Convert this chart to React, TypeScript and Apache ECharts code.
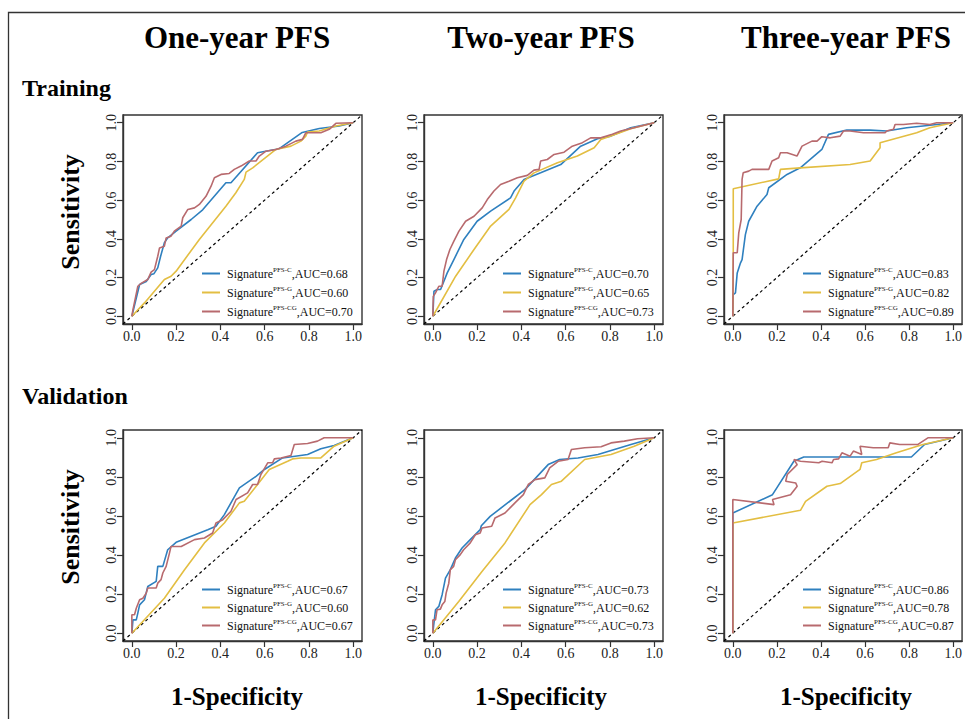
import React, { useEffect, useRef } from "react";
import * as echarts from "echarts";

// ---------- data ----------
const columnTitles = ["One-year PFS", "Two-year PFS", "Three-year PFS"];
const rowTitles = ["Training", "Validation"];
const modelTags = ["PFS-C", "PFS-G", "PFS-CG"];
const tickValues = [0, 0.2, 0.4, 0.6, 0.8, 1.0];
const yAxisTitle = "Sensitivity";
const xAxisTitle = "1-Specificity";

const aucTrainOne = [0.68, 0.6, 0.7];
const aucTrainTwo = [0.7, 0.65, 0.73];
const aucTrainThree = [0.83, 0.82, 0.89];
const aucValidOne = [0.67, 0.6, 0.67];
const aucValidTwo = [0.73, 0.62, 0.73];
const aucValidThree = [0.86, 0.78, 0.87];

const trainOneC = [[0,0],[0.035,0.164],[0.065,0.18],[0.087,0.216],[0.1,0.22],[0.117,0.25],[0.13,0.31],[0.147,0.38],[0.162,0.405],[0.2,0.44],[0.268,0.5],[0.32,0.55],[0.425,0.69],[0.448,0.69],[0.568,0.845],[0.666,0.866],[0.77,0.95],[0.847,0.97],[0.937,0.983],[1,1]];
const trainOneG = [[0,0],[0.057,0.069],[0.147,0.19],[0.177,0.207],[0.2,0.233],[0.305,0.397],[0.425,0.569],[0.47,0.638],[0.508,0.707],[0.516,0.745],[0.546,0.767],[0.651,0.862],[0.719,0.879],[0.764,0.905],[0.786,0.931],[0.794,0.952],[0.847,0.957],[0.922,0.983],[1,1]];
const trainOneCG = [[0,0],[0.005,0.034],[0.017,0.1],[0.027,0.155],[0.042,0.17],[0.072,0.19],[0.087,0.228],[0.102,0.241],[0.117,0.31],[0.125,0.353],[0.147,0.362],[0.155,0.405],[0.177,0.414],[0.192,0.44],[0.223,0.466],[0.23,0.509],[0.253,0.552],[0.283,0.56],[0.305,0.578],[0.335,0.62],[0.358,0.672],[0.373,0.716],[0.403,0.733],[0.44,0.738],[0.463,0.759],[0.493,0.776],[0.531,0.802],[0.561,0.802],[0.576,0.828],[0.606,0.853],[0.651,0.862],[0.696,0.879],[0.741,0.905],[0.771,0.914],[0.786,0.948],[0.854,0.948],[0.892,0.966],[0.922,0.997],[1,1]];

const trainTwoC = [[0,0],[0.005,0.129],[0.02,0.138],[0.035,0.138],[0.05,0.181],[0.065,0.224],[0.095,0.293],[0.14,0.397],[0.2,0.491],[0.261,0.543],[0.351,0.612],[0.367,0.647],[0.412,0.707],[0.487,0.741],[0.578,0.784],[0.668,0.879],[0.744,0.917],[0.804,0.931],[0.894,0.974],[1,1]];
const trainTwoG = [[0,0],[0.103,0.207],[0.186,0.345],[0.261,0.466],[0.344,0.552],[0.374,0.612],[0.412,0.698],[0.457,0.741],[0.563,0.793],[0.653,0.828],[0.729,0.871],[0.759,0.914],[0.804,0.931],[0.894,0.969],[1,1]];
const trainTwoCG = [[0,0],[0.002,0.103],[0.012,0.121],[0.027,0.155],[0.042,0.155],[0.05,0.233],[0.062,0.293],[0.077,0.345],[0.095,0.388],[0.118,0.44],[0.148,0.491],[0.186,0.517],[0.223,0.56],[0.246,0.603],[0.276,0.647],[0.306,0.681],[0.344,0.698],[0.382,0.716],[0.427,0.728],[0.457,0.755],[0.48,0.759],[0.487,0.802],[0.517,0.81],[0.548,0.836],[0.593,0.848],[0.63,0.879],[0.676,0.897],[0.713,0.922],[0.759,0.922],[0.811,0.94],[0.849,0.957],[0.909,0.974],[1,1]];

const trainThreeC = [[0,0],[0.002,0.112],[0.012,0.121],[0.02,0.224],[0.035,0.276],[0.042,0.293],[0.057,0.422],[0.072,0.491],[0.11,0.569],[0.155,0.629],[0.163,0.664],[0.246,0.733],[0.306,0.767],[0.404,0.862],[0.434,0.94],[0.517,0.962],[0.623,0.962],[0.698,0.957],[0.789,0.974],[1,1]];
const trainThreeG = [[0,0],[0.002,0.328],[0.002,0.659],[0.208,0.71],[0.216,0.759],[0.306,0.767],[0.532,0.784],[0.623,0.802],[0.668,0.871],[0.668,0.897],[0.834,0.948],[0.894,0.974],[1,1]];
const trainThreeCG = [[0,0],[0.002,0.328],[0.02,0.328],[0.027,0.431],[0.038,0.5],[0.042,0.707],[0.047,0.741],[0.072,0.75],[0.087,0.759],[0.163,0.759],[0.178,0.802],[0.208,0.819],[0.216,0.845],[0.246,0.845],[0.291,0.828],[0.314,0.879],[0.359,0.905],[0.382,0.905],[0.404,0.928],[0.442,0.922],[0.487,0.931],[0.502,0.957],[0.532,0.957],[0.593,0.948],[0.691,0.948],[0.698,0.957],[0.729,0.966],[0.736,0.991],[0.774,0.991],[0.834,0.997],[0.894,0.991],[0.925,1.0],[1,1]];

const validOneC = [[0,0],[0.005,0.068],[0.02,0.068],[0.027,0.103],[0.035,0.145],[0.057,0.171],[0.072,0.239],[0.11,0.265],[0.117,0.342],[0.14,0.342],[0.162,0.427],[0.2,0.465],[0.343,0.53],[0.38,0.547],[0.418,0.607],[0.486,0.744],[0.561,0.803],[0.599,0.838],[0.681,0.897],[0.794,0.915],[0.854,0.944],[0.914,0.961],[1,1]];
const validOneG = [[0,0],[0.147,0.179],[0.238,0.325],[0.328,0.462],[0.418,0.564],[0.486,0.667],[0.508,0.675],[0.568,0.761],[0.621,0.838],[0.704,0.88],[0.726,0.892],[0.764,0.897],[0.854,0.897],[0.914,0.957],[1,1]];
const validOneCG = [[0,0],[0,0.094],[0.012,0.094],[0.02,0.128],[0.035,0.171],[0.05,0.179],[0.065,0.205],[0.072,0.231],[0.11,0.231],[0.117,0.256],[0.132,0.274],[0.14,0.308],[0.155,0.342],[0.17,0.41],[0.177,0.444],[0.223,0.444],[0.283,0.479],[0.328,0.487],[0.365,0.513],[0.38,0.564],[0.411,0.581],[0.448,0.624],[0.471,0.684],[0.523,0.718],[0.546,0.761],[0.568,0.761],[0.583,0.812],[0.614,0.872],[0.636,0.872],[0.644,0.892],[0.674,0.897],[0.719,0.909],[0.734,0.966],[0.794,0.971],[0.839,0.983],[0.869,1.0],[1,1]];

const validTwoC = [[0,0],[0.004,0.043],[0.012,0.12],[0.027,0.137],[0.042,0.197],[0.057,0.282],[0.079,0.325],[0.102,0.385],[0.132,0.436],[0.169,0.479],[0.214,0.53],[0.219,0.55],[0.259,0.598],[0.416,0.735],[0.521,0.863],[0.573,0.889],[0.656,0.897],[0.746,0.915],[0.895,0.966],[1,1]];
const validTwoG = [[0,0],[0.117,0.162],[0.222,0.316],[0.326,0.462],[0.439,0.658],[0.491,0.709],[0.536,0.761],[0.581,0.778],[0.686,0.889],[0.805,0.915],[0.91,0.957],[1,1]];
const validTwoCG = [[0,0],[0,0.068],[0.012,0.068],[0.019,0.12],[0.034,0.123],[0.042,0.145],[0.054,0.162],[0.06,0.205],[0.072,0.256],[0.079,0.325],[0.094,0.342],[0.102,0.376],[0.124,0.402],[0.139,0.427],[0.169,0.462],[0.192,0.504],[0.214,0.513],[0.222,0.538],[0.266,0.547],[0.281,0.59],[0.326,0.615],[0.371,0.667],[0.409,0.709],[0.431,0.761],[0.461,0.786],[0.506,0.795],[0.528,0.846],[0.566,0.88],[0.611,0.889],[0.626,0.94],[0.686,0.949],[0.76,0.954],[0.805,0.974],[0.865,0.983],[0.925,0.995],[1,1]];

const validThreeC = [[0,0],[0,0.615],[0.18,0.709],[0.277,0.88],[0.322,0.902],[0.81,0.902],[0.87,0.966],[1,1]];
const validThreeG = [[0,0],[0,0.564],[0.307,0.629],[0.33,0.675],[0.427,0.752],[0.487,0.766],[0.577,0.838],[0.585,0.872],[0.652,0.889],[0.742,0.923],[0.862,0.966],[1,1]];
const validThreeCG = [[0,0],[0,0.684],[0.187,0.658],[0.18,0.684],[0.262,0.709],[0.292,0.752],[0.285,0.769],[0.24,0.778],[0.247,0.812],[0.292,0.863],[0.277,0.889],[0.307,0.88],[0.39,0.872],[0.405,0.88],[0.45,0.872],[0.457,0.889],[0.48,0.892],[0.495,0.923],[0.532,0.906],[0.547,0.932],[0.585,0.915],[0.577,0.957],[0.637,0.949],[0.705,0.949],[0.712,0.974],[0.757,0.966],[0.84,0.966],[0.885,1.0],[1,1]];

const diagonal = [[-0.04, -0.04], [1.04, 1.04]];

const panelCurves = [
  [trainOneC, trainOneG, trainOneCG],
  [trainTwoC, trainTwoG, trainTwoCG],
  [trainThreeC, trainThreeG, trainThreeCG],
  [validOneC, validOneG, validOneCG],
  [validTwoC, validTwoG, validTwoCG],
  [validThreeC, validThreeG, validThreeCG],
];
const panelAucs = [aucTrainOne, aucTrainTwo, aucTrainThree, aucValidOne, aucValidTwo, aucValidThree];

// ---------- style / layout ----------
const SERIF = "Liberation Serif";
const lineColors = ["#2F80BF", "#E3BE42", "#B86A6E"];
const colLeft = [123, 424, 724];
const colWidth = 239;
const rowTop = [115, 430];
const rowHeight = [209, 211];
const colCenter = [237, 541, 846];

function buildOption() {
  const grid: any[] = [];
  const xAxis: any[] = [];
  const yAxis: any[] = [];
  const series: any[] = [];
  const legend: any[] = [];
  const labelMap: Record<string, string> = {};

  for (let p = 0; p < 6; p++) {
    const r = Math.floor(p / 3);
    const c = p % 3;
    grid.push({
      left: colLeft[c],
      top: rowTop[r],
      width: colWidth,
      height: rowHeight[r],
      show: true,
      borderColor: "#333",
      borderWidth: 1.4,
      backgroundColor: "transparent",
    });
    const axisCommon = {
      type: "value",
      gridIndex: p,
      min: -0.04,
      max: 1.04,
      splitLine: { show: false },
      axisLine: { show: true, onZero: false, lineStyle: { color: "#333", width: 1.4 } },
      axisTick: { show: true, customValues: tickValues, length: 6, lineStyle: { color: "#333", width: 1.2 } },
    };
    const labelCommon = {
      customValues: tickValues,
      formatter: (v: number) => v.toFixed(1),
      fontFamily: SERIF,
      fontSize: 14,
      color: "#222",
      margin: 5,
    };
    xAxis.push({ ...axisCommon, position: "bottom", axisLabel: { ...labelCommon } });
    yAxis.push({ ...axisCommon, position: "left", axisLabel: { ...labelCommon, rotate: 90 } });
    series.push({
      type: "line",
      name: `diag${p}`,
      xAxisIndex: p,
      yAxisIndex: p,
      data: diagonal,
      symbol: "none",
      silent: true,
      lineStyle: { color: "#000", width: 1.2, type: [3, 3] },
    });
    const names: string[] = [];
    for (let k = 0; k < 3; k++) {
      const name = `p${p}-${modelTags[k]}`;
      names.push(name);
      labelMap[name] = `{m|Signature}{sup|${modelTags[k]}}{m|,AUC=${panelAucs[p][k].toFixed(2)}}`;
      series.push({
        type: "line",
        name,
        xAxisIndex: p,
        yAxisIndex: p,
        data: panelCurves[p][k],
        symbol: "none",
        color: lineColors[k],
        itemStyle: { color: lineColors[k] },
        lineStyle: { color: lineColors[k], width: 1.6 },
      });
    }
    legend.push({
      data: names,
      orient: "vertical",
      left: colLeft[c] + 79,
      top: rowTop[r] + (r === 0 ? 151 : 152),
      padding: 0,
      itemGap: r === 0 ? 4 : 3,
      itemWidth: 18,
      itemHeight: 2,
      icon: "rect",
      selectedMode: false,
      formatter: (n: string) => labelMap[n],
      textStyle: {
        fontFamily: SERIF,
        fontSize: 12,
        color: "#111",
        lineHeight: 15,
        padding: [0, 0, 0, 2],
        rich: {
          m: { fontFamily: SERIF, fontSize: 12, color: "#111", lineHeight: 15 },
          sup: { fontFamily: SERIF, fontSize: 7, color: "#111", verticalAlign: "top", lineHeight: 9 },
        },
      },
    });
  }

  const graphic: any[] = [
    {
      type: "rect",
      shape: { x: 8.5, y: 12.5, width: 1000, height: 800 },
      style: { fill: "none", stroke: "#333", lineWidth: 1.3 },
      silent: true,
    },
  ];
  for (let c = 0; c < 3; c++) {
    graphic.push({
      type: "text",
      x: colCenter[c],
      y: 37,
      style: { text: columnTitles[c], font: `bold 31px ${SERIF}`, fill: "#000", textAlign: "center", textVerticalAlign: "middle" },
    });
    graphic.push({
      type: "text",
      x: colCenter[c],
      y: 696,
      style: { text: xAxisTitle, font: `bold 25px ${SERIF}`, fill: "#000", textAlign: "center", textVerticalAlign: "middle" },
    });
  }
  const rowLabelY = [88, 396];
  const sensY = [212, 527];
  for (let r = 0; r < 2; r++) {
    graphic.push({
      type: "text",
      x: 22,
      y: rowLabelY[r],
      style: { text: rowTitles[r], font: `bold 24px ${SERIF}`, fill: "#000", textAlign: "left", textVerticalAlign: "middle" },
    });
    graphic.push({
      type: "text",
      x: 70,
      y: sensY[r],
      rotation: Math.PI / 2,
      style: { text: yAxisTitle, font: `bold 26px ${SERIF}`, fill: "#000", textAlign: "center", textVerticalAlign: "middle" },
    });
  }

  return {
    animation: false,
    backgroundColor: "#fff",
    grid,
    xAxis,
    yAxis,
    legend,
    series,
    graphic,
  };
}

export default function App() {
  const ref = useRef<HTMLDivElement>(null);
  useEffect(() => {
    if (!ref.current) return;
    const chart = echarts.init(ref.current, undefined, { renderer: "svg" });
    chart.setOption(buildOption() as any);
    return () => chart.dispose();
  }, []);
  return (
    <div
      ref={ref}
      style={{ position: "fixed", left: 0, top: 0, width: 965, height: 719, background: "#fff" }}
    />
  );
}
